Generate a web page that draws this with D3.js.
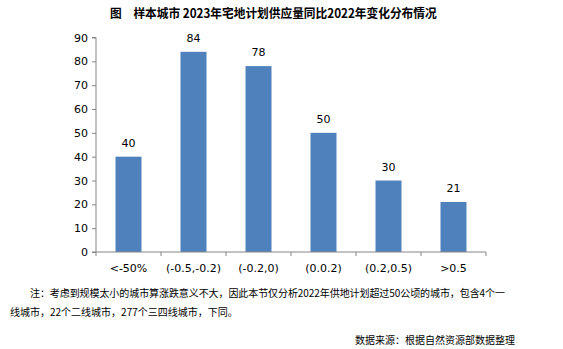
<!DOCTYPE html>
<html><head><meta charset="utf-8">
<script src="https://cdn.jsdelivr.net/npm/d3@7"></script>
<style>body{margin:0;background:#fff}svg{display:block}</style>
</head><body>
<svg id="c" width="563" height="349"></svg>
<script>
const categories = ["<-50%", "(-0.5,-0.2)", "(-0.2,0)", "(0.0.2)", "(0.2,0.5)", ">0.5"];
const values = [40, 84, 78, 50, 30, 21];
const yTicks = [0, 10, 20, 30, 40, 50, 60, 70, 80, 90];
const title = "图　样本城市 2023年宅地计划供应量同比2022年变化分布情况";
const note1 = "注：考虑到规模太小的城市算涨跌意义不大，因此本节仅分析2022年供地计划超过50公顷的城市，包含4个一";
const note2 = "线城市，22个二线城市，277个三四线城市，下同。";
const source = "数据来源：根据自然资源部数据整理";

const svg = d3.select("#c");
const cjk = "'Noto Sans CJK SC', sans-serif";
const num = "Tahoma, 'DejaVu Sans', 'Liberation Sans', sans-serif";
const L = 96, R = 486, T = 37.5, B = 252;
const x = d3.scaleBand().domain(categories).range([L, R]).paddingInner(0.6).paddingOuter(0.3);
const y = d3.scaleLinear().domain([0, 90]).range([B, T]);

const tg = svg.append("g");
const tt = tg.append("text").attr("x", 0).attr("y", 0)
  .attr("font-family", cjk).attr("font-weight", "bold").attr("font-size", 12.5)
  .attr("fill", "#000").text(title);
const tw = tt.node().getComputedTextLength();
tg.attr("transform", `translate(110,18) scale(${327 / tw},1)`);

// bars
svg.selectAll("rect.bar").data(values).enter().append("rect").attr("class","bar")
  .attr("x", (d,i) => x(categories[i])).attr("width", x.bandwidth())
  .attr("y", d => y(d)).attr("height", d => B - y(d)).attr("fill", "#4F81BD");

svg.selectAll("text.val").data(values).enter().append("text").attr("class","val")
  .attr("x", (d,i) => x(categories[i]) + x.bandwidth()/2).attr("y", d => y(d) - 10)
  .attr("text-anchor", "middle").attr("font-family", num).attr("font-size", 11).attr("fill", "#000").text(d => d);

// y axis
const ya = svg.append("g").attr("transform", `translate(${L},0)`)
  .call(d3.axisLeft(y).tickValues(yTicks).tickSize(4).tickPadding(4).tickFormat(d3.format("d")));
ya.select(".domain").attr("stroke", "#868686").attr("d", `M-4,${B}H0V${T}H-4`);
ya.selectAll(".tick line").attr("stroke", "#868686");
ya.selectAll(".tick text").attr("font-family", num).attr("font-size", 11).attr("fill", "#000");

// x axis
const xa = svg.append("g").attr("transform", `translate(0,${B})`)
  .call(d3.axisBottom(x).tickSize(0).tickPadding(12));
xa.select(".domain").attr("stroke", "#868686").attr("d", `M${L},0H${R}`);
xa.selectAll(".tick text").attr("font-family", num).attr("font-size", 11).attr("fill", "#000");
const step = x.step();
const bounds = d3.range(categories.length + 1).map(i => L + i * step);
xa.selectAll("line.sep").data(bounds).enter().append("line").attr("class","sep")
  .attr("x1", d => d).attr("x2", d => d).attr("y1", 0).attr("y2", 4).attr("stroke", "#868686");

// notes
svg.append("text").attr("x", 30).attr("y", 297).attr("font-family", cjk).attr("font-size", 10).attr("textLength", 475).attr("lengthAdjust", "spacing").attr("fill", "#000").text(note1);
svg.append("text").attr("x", 10).attr("y", 316).attr("font-family", cjk).attr("font-size", 10).attr("fill", "#000").text(note2);
svg.append("text").attr("x", 515).attr("y", 344).attr("text-anchor", "end").attr("font-family", cjk).attr("font-size", 10).attr("fill", "#000").text(source);
</script>
</body></html>
